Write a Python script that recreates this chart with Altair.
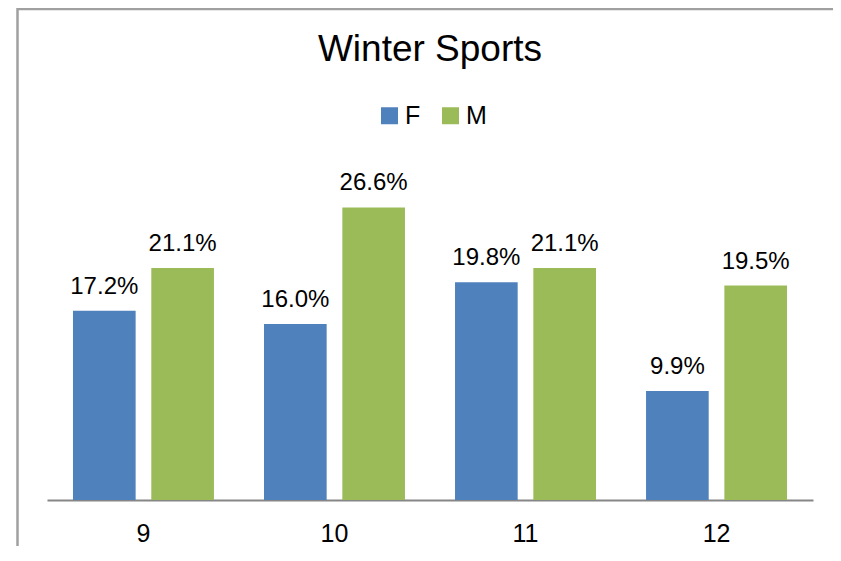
import altair as alt
import pandas as pd

grades = ["9", "10", "11", "12"]
series = ["F", "M"]
f_values = [17.2, 16.0, 19.8, 9.9]
m_values = [21.1, 26.6, 21.1, 19.5]
colors = ["#4F81BD", "#9BBB59"]

rows = []
for g, fv, mv in zip(grades, f_values, m_values):
    rows.append({"grade": g, "sex": "F", "value": fv})
    rows.append({"grade": g, "sex": "M", "value": mv})
df = pd.DataFrame(rows)

FONT = "Liberation Sans"

x_enc = alt.X(
    "grade:N",
    sort=grades,
    scale=alt.Scale(paddingInner=0.262, paddingOuter=0.136),
    axis=alt.Axis(
        title=None,
        labelAngle=0,
        ticks=False,
        tickSize=0,
        labelPadding=21,
        labelFontSize=25,
        labelFont=FONT,
        labelColor="black",
        domainColor="#868686",
        domainWidth=2,
        grid=False,
    ),
)
xoff = alt.XOffset("sex:N", sort=series, scale=alt.Scale(paddingInner=0.2, paddingOuter=0))
y_enc = alt.Y("value:Q", scale=alt.Scale(domain=[0, 30]), axis=None)

base = alt.Chart(df)

bars = base.mark_bar().encode(
    x=x_enc,
    xOffset=xoff,
    y=y_enc,
    color=alt.Color(
        "sex:N",
        sort=series,
        scale=alt.Scale(domain=series, range=colors),
        legend=alt.Legend(
            title=None,
            orient="none",
            legendX=330,
            legendY=-67,
            direction="horizontal",
            symbolType="square",
            symbolSize=289,
            symbolStrokeWidth=0,
            symbolOpacity=1,
            labelFontSize=25,
            labelFont=FONT,
            labelColor="black",
            labelOffset=3,
            columnPadding=17,
            padding=0,
        ),
    ),
)

labels = base.transform_calculate(
    label="format(datum.value, '.1f') + '%'"
).mark_text(
    baseline="alphabetic", dy=-17, fontSize=24, font=FONT, color="black"
).encode(
    x=x_enc,
    xOffset=xoff,
    y=y_enc,
    text="label:N",
)

frame_df = pd.DataFrame({"k": [0]})
frame = alt.Chart(frame_df).mark_rect(
    fill="transparent", stroke="#A0A0A0", strokeWidth=2.5
).encode(
    x=alt.value(-29.5), x2=alt.value(900), y=alt.value(-161), y2=alt.value(500)
)

chart = alt.layer(bars, labels, frame).properties(
    width=766,
    height=330,
    title=alt.Title(
        "Winter Sports",
        fontSize=37,
        font=FONT,
        fontWeight="normal",
        color="black",
        anchor="middle",
        frame="group",
        baseline="alphabetic",
        offset=0,
        dy=90,
    ),
    autosize=alt.AutoSizeParams(type="none"),
    padding={"left": 39, "top": 162, "right": 20, "bottom": 46},
).configure_view(stroke=None).configure_axis(grid=False)

chart.save("out.html", embed_options={"renderer": "svg", "actions": False})
